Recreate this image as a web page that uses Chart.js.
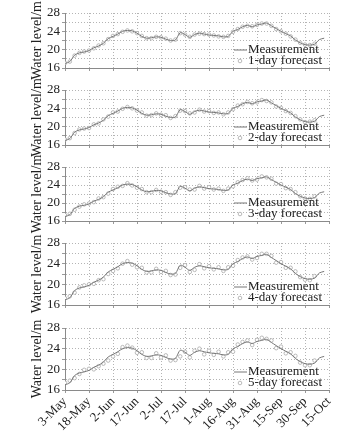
<!doctype html>
<html>

<head>
    <title>Water level forecasts</title>
    <meta charset="utf-8" />
    <script src="https://cdn.jsdelivr.net/npm/chart.js@4.4.1/dist/chart.umd.min.js"></script>
    <style>
        body { margin: 0; background: #fff; width: 347px; height: 431px; position: relative; overflow: hidden; }
    </style>
    <script>
        // days counted from 3-May
        const paevad = [0, 3, 6, 9, 12, 15, 18, 21, 24, 27, 30, 33, 36, 39, 42, 45, 48, 51, 54, 57,
            60, 63, 66, 69, 72, 75, 78, 81, 84, 87, 90, 93, 96, 99, 102, 105, 108, 111, 114, 117,
            120, 123, 126, 129, 132, 135, 138, 141, 144, 147, 150, 153, 156, 159, 162];
        const kuupaevad = ['3-May', '18-May', '2-Jun', '17-Jun', '2-Jul', '17-Jul', '1-Aug', '16-Aug', '31-Aug', '15-Sep', '30-Sep', '15-Oct'];
        const tasemeMargid = [16, 20, 24, 28];

        const mootmine = [17.0, 17.4, 18.8, 19.3, 19.5, 19.8, 20.4, 20.8, 21.4, 22.4,
            22.9, 23.4, 24.0, 24.2, 24.1, 23.6, 22.9, 22.5, 22.6, 22.8,
            22.7, 22.3, 22.0, 22.1, 23.7, 23.3, 22.7, 23.3, 23.6, 23.4,
            23.2, 23.1, 23.0, 22.8, 22.9, 24.0, 24.4, 25.0, 25.3, 25.0,
            25.4, 25.6, 25.8, 25.2, 24.6, 24.0, 23.5, 23.0, 22.1, 21.5,
            21.1, 21.0, 21.2, 22.2, 22.5];

        const prognoos1 = [17.1, 17.4, 18.7, 19.3, 19.6, 19.8, 20.3, 20.9, 21.4, 22.3,
            23.0, 23.4, 23.9, 24.2, 24.0, 23.6, 23.0, 22.5, 22.5, 22.8,
            22.7, 22.4, 22.0, 22.2, 23.6, 23.3, 22.8, 23.3, 23.5, 23.4,
            23.3, 23.1, 22.9, 22.8, 23.0, 23.9, 24.5, 25.0, 25.2, 25.1,
            25.4, 25.7, 25.7, 25.2, 24.5, 24.0, 23.5, 22.9, 22.2, 21.5,
            21.1, 21.0, 21.3];
        const prognoos2 = [17.2, 17.5, 18.6, 19.4, 19.6, 19.7, 20.5, 20.7, 21.6, 22.2,
            23.1, 23.3, 23.9, 24.3, 24.0, 23.5, 23.1, 22.4, 22.5, 22.9,
            22.6, 22.5, 21.9, 22.3, 23.5, 23.4, 22.9, 23.1, 23.7, 23.3,
            23.4, 23.0, 23.1, 22.7, 23.1, 23.8, 24.6, 24.9, 25.4, 25.1,
            25.3, 25.8, 25.6, 25.3, 24.4, 24.1, 23.4, 23.0, 22.3, 21.6,
            21.0, 21.1, 21.4];
        const prognoos3 = [17.3, 17.6, 18.5, 19.2, 19.7, 19.9, 20.2, 21.0, 21.3, 22.1,
            23.1, 23.6, 23.8, 24.4, 23.9, 23.4, 23.1, 22.4, 22.4, 22.9,
            22.5, 22.4, 21.8, 22.4, 23.4, 23.5, 23.0, 23.0, 23.8, 23.2,
            23.5, 23.0, 23.2, 22.7, 23.2, 23.7, 24.6, 25.1, 25.5, 25.0,
            25.2, 25.9, 25.7, 25.4, 24.3, 24.2, 23.3, 23.1, 22.4, 21.5,
            21.0, 20.9, 21.5];
        const prognoos4 = [17.3, 17.7, 18.4, 19.4, 19.8, 20.0, 20.1, 20.8, 21.0, 22.0,
            22.6, 23.1, 24.0, 24.5, 23.8, 23.3, 23.2, 22.3, 22.3, 23.0,
            22.4, 22.6, 21.8, 21.9, 23.2, 23.7, 22.4, 22.8, 23.9, 23.1,
            23.5, 22.9, 23.3, 22.6, 23.3, 23.6, 24.7, 25.2, 25.4, 24.8,
            25.1, 25.9, 25.9, 25.5, 24.2, 24.3, 23.2, 23.2, 22.5, 21.4,
            20.9, 20.8, 21.6];
        const prognoos5 = [17.4, 17.8, 18.3, 19.1, 19.9, 20.1, 20.0, 20.6, 21.1, 21.7,
            22.5, 23.0, 24.3, 24.6, 24.2, 23.2, 23.3, 22.2, 22.2, 23.1,
            22.3, 22.7, 21.7, 21.8, 22.5, 23.4, 22.3, 23.6, 24.0, 22.9,
            23.6, 22.8, 23.4, 22.5, 23.3, 23.4, 24.8, 25.3, 25.6, 24.7,
            25.7, 26.1, 25.9, 25.6, 24.1, 24.4, 23.1, 23.3, 22.6, 21.3,
            20.8, 20.8, 21.7];

        const prognoosid = [prognoos1, prognoos2, prognoos3, prognoos4, prognoos5];
        const prognoosiNimed = ['1-day forecast', '2-day forecast', '3-day forecast', '4-day forecast', '5-day forecast'];

        // plot area top/bottom of every panel, in page pixels
        const paneelid = [
            { top: 13, bottom: 68 },
            { top: 90, bottom: 145 },
            { top: 167, bottom: 221 },
            { top: 243, bottom: 305 },
            { top: 328, bottom: 390 }
        ];

        const kiri = 'Liberation Serif';

        const legende = {
            id: 'legende',
            afterDatasetsDraw(chart) {
                const { ctx, chartArea } = chart;
                const ds = chart.data.datasets;
                const tx = chartArea.right - 81;
                const y1 = chartArea.bottom - 18;
                const y2 = chartArea.bottom - 7;
                ctx.save();
                ctx.strokeStyle = ds[0].borderColor;
                ctx.lineWidth = 1;
                ctx.beginPath();
                ctx.moveTo(tx - 14, y1);
                ctx.lineTo(tx - 1, y1);
                ctx.stroke();
                ctx.beginPath();
                ctx.arc(tx - 8, y2, 1.8, 0, Math.PI * 2);
                ctx.fillStyle = '#fff';
                ctx.fill();
                ctx.strokeStyle = ds[1].pointBorderColor;
                ctx.lineWidth = 0.8;
                ctx.stroke();
                ctx.fillStyle = '#222';
                ctx.font = '13px "' + kiri + '"';
                ctx.textBaseline = 'middle';
                ctx.fillText(ds[0].label, tx, y1);
                ctx.fillText(ds[1].label, tx, y2);
                ctx.restore();
            }
        };

        function joonista(nr) {
            const p = paneelid[nr];
            const viimane = nr === 4;
            const ylemine = p.top - 13;
            const alumine = viimane ? 431 : p.bottom + 16;
            const xKorgus = viimane ? 41 : 6;
            const loend = document.createElement('canvas');
            loend.width = 347;
            loend.height = alumine - ylemine;
            loend.style.cssText = 'position:absolute;left:0;top:' + ylemine + 'px';
            document.body.appendChild(loend);

            const ruudustik = { color: '#b4b4b4', tickLength: 3, tickColor: '#999' };
            const piir = { color: '#8a8a8a', width: 1, dash: [1, 2] };

            new Chart(loend, {
                type: 'line',
                data: {
                    datasets: [
                        {
                            label: 'Measurement',
                            data: paevad.map((d, i) => ({ x: d, y: mootmine[i] })),
                            borderColor: '#777',
                            borderWidth: 1,
                            pointRadius: 0,
                            tension: 0.3,
                            order: 0
                        },
                        {
                            label: prognoosiNimed[nr],
                            data: prognoosid[nr].map((v, i) => ({ x: paevad[i], y: v })),
                            showLine: false,
                            pointRadius: 1.8,
                            pointBorderWidth: 0.8,
                            pointBorderColor: '#aaa',
                            pointBackgroundColor: '#fff',
                            order: 1
                        }
                    ]
                },
                options: {
                    responsive: false,
                    animation: false,
                    devicePixelRatio: 1,
                    layout: { padding: { top: 13, left: 0, right: 18, bottom: alumine - p.bottom - xKorgus } },
                    plugins: { legend: { display: false }, tooltip: { enabled: false } },
                    scales: {
                        x: {
                            type: 'linear', min: 0, max: 165,
                            afterFit: s => { s.height = xKorgus; },
                            ticks: {
                                display: viimane, stepSize: 15, autoSkip: false,
                                minRotation: 45, maxRotation: 45, padding: 1,
                                color: '#222', font: { family: kiri, size: 13 },
                                callback: v => kuupaevad[v / 15]
                            },
                            grid: ruudustik,
                            border: piir
                        },
                        y: {
                            min: 16, max: 28,
                            afterFit: s => { s.width = 65; },
                            ticks: {
                                stepSize: 2, padding: 2, autoSkip: false, color: '#222',
                                font: { family: kiri, size: 13 },
                                callback: v => tasemeMargid.includes(v) ? v : ''
                            },
                            title: {
                                display: true, text: 'Water level/m', color: '#222',
                                font: { family: kiri, size: 14 },
                                padding: { top: 29, bottom: 0 }
                            },
                            grid: ruudustik,
                            border: piir
                        }
                    }
                },
                plugins: [legende]
            });
        }

        window.onload = function () {
            for (let i = 0; i < 5; i++) joonista(i);
        }
    </script>
</head>

<body>
</body>

</html>
